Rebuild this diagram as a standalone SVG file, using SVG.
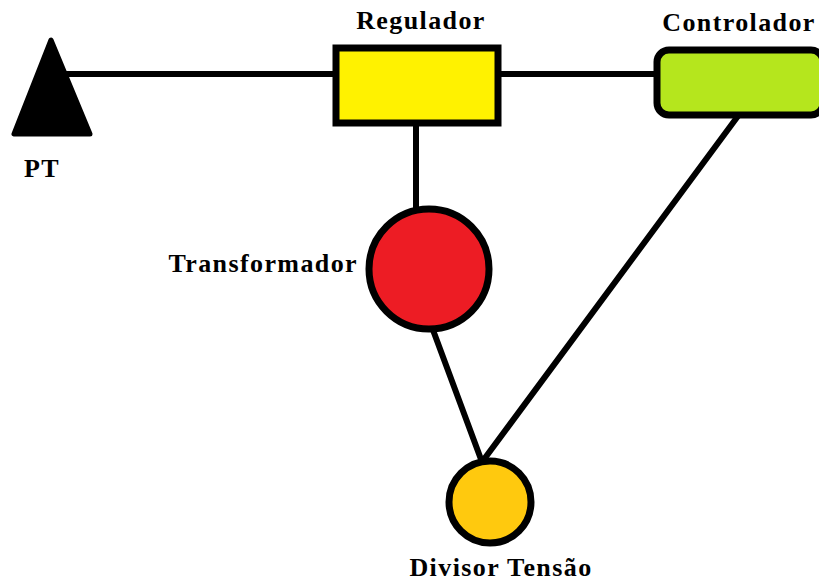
<svg xmlns="http://www.w3.org/2000/svg" width="819" height="583" viewBox="0 0 819 583">
<style>
.lbl{font-family:"Liberation Serif","Times New Roman",serif;font-weight:bold;font-size:26px;fill:#000;letter-spacing:1.4px}
.edge{stroke:#000;stroke-width:6;fill:none;stroke-linecap:round}
.shape{stroke:#000;stroke-width:7}
</style>
<rect width="819" height="583" fill="#fff"/>
<g id="connectors">
<line class="edge" x1="60" y1="74" x2="336" y2="74"/>
<line class="edge" x1="498" y1="74" x2="657" y2="74"/>
<line class="edge" x1="416" y1="124" x2="416" y2="208"/>
<line class="edge" x1="433" y1="330" x2="482" y2="462"/>
<line class="edge" x1="738" y1="116" x2="482" y2="462"/>
</g>
<g id="pt">
<polygon points="51,40 14,134 90,134" fill="#000" stroke="#000" stroke-width="5" stroke-linejoin="round"/>
<text class="lbl" x="24" y="177">PT</text>
</g>
<g id="regulador">
<rect class="shape" x="336" y="48" width="162" height="75" fill="#FFF200"/>
<text class="lbl" x="421" y="29" text-anchor="middle">Regulador</text>
</g>
<g id="controlador">
<rect class="shape" x="657" y="50" width="166" height="65" rx="12" fill="#B5E61D"/>
<text class="lbl" x="739" y="31" text-anchor="middle">Controlador</text>
</g>
<g id="transformador">
<circle class="shape" cx="429" cy="269" r="60" fill="#ED1C24"/>
<text class="lbl" x="358" y="272" text-anchor="end">Transformador</text>
</g>
<g id="divisor">
<circle class="shape" cx="490" cy="502" r="41" fill="#FFC90E"/>
<text class="lbl" x="501" y="576" text-anchor="middle">Divisor Tensão</text>
</g>
</svg>
